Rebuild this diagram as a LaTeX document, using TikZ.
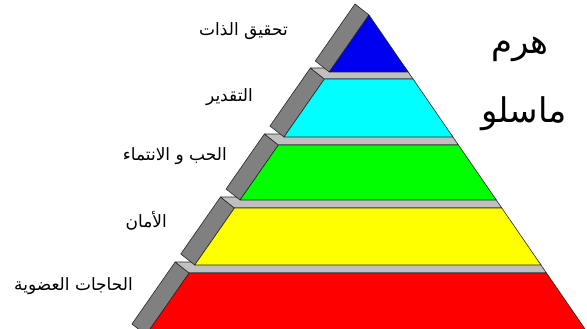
\documentclass[tikz,border=0pt]{standalone}
\usepackage{fontspec}
\newfontfamily\arabicfont[Script=Arabic]{DejaVu Sans}
\TeXXeTstate=1
\begin{document}
\begin{tikzpicture}[x=1pt,y=-1pt,
  declare function={Lx(\y)=369-0.697*(\y-15); Rx(\y)=369+0.688*(\y-15);},
  face/.style={draw=black!85, line width=0.6pt, line join=round},
  sideface/.style={face, fill=sidegray},
  topface/.style={face, fill=ledgegray},
  label/.style={anchor=east, inner sep=0pt, font=\arabicfont\fontsize{17}{19}\selectfont},
  titletext/.style={inner sep=0pt, font=\arabicfont\fontsize{34}{38}\selectfont}]
\definecolor{sidegray}{HTML}{808080}
\definecolor{ledgegray}{HTML}{C0C0C0}
\definecolor{lvred}{HTML}{FF0000}
\definecolor{lvyellow}{HTML}{FFFF00}
\definecolor{lvgreen}{HTML}{00FF00}
\definecolor{lvcyan}{HTML}{00FFFF}
\definecolor{lvblue}{HTML}{0000F0}
\useasboundingbox (0,0) rectangle (587,329);
\clip (0,0) rectangle (587,329);
% levels: top y, bottom y, colour
\foreach \yt/\yb/\col in {273/335/lvred, 208/265/lvyellow, 145/200/lvgreen, 79/137/lvcyan} {
  \draw[sideface] ({Lx(\yt)},\yt) -- ({Lx(\yb)},\yb) -- ({Lx(\yb)-14},\yb-11) -- ({Lx(\yt)-14},\yt-11) -- cycle;
  \draw[topface] ({Lx(\yt)-14},\yt-11) -- ({Lx(\yt)},\yt) -- ({Rx(\yt)},\yt) -- ({Rx(\yt-11)},\yt-11) -- cycle;
  \draw[face, fill=\col] ({Lx(\yt)},\yt) -- ({Rx(\yt)},\yt) -- ({Rx(\yb)},\yb) -- ({Lx(\yb)},\yb) -- cycle;
}
% top (blue) level
\draw[sideface] (369,15) -- ({Lx(72)},72) -- ({Lx(72)-14},61) -- (355,4) -- cycle;
\draw[face, fill=lvblue] (369,15) -- ({Rx(72)},72) -- ({Lx(72)},72) -- cycle;
% labels
\node[label] (l1) at (288,31) {\beginR تحقيق الذات\endR};
\node[label] (l2) at (253,97) {\beginR التقدير\endR};
\node[label] (l3) at (227,156) {\beginR الحب و الانتماء\endR};
\node[label] (l4) at (167,221) {\beginR الأمان\endR};
\node[label] (l5) at (133,286) {\beginR الحاجات العضوية\endR};
\node[titletext] (t1) at (520,49) {\beginR هرم\endR};
\node[titletext] (t2) at (524,114) {\beginR ماسلو\endR};
\end{tikzpicture}
\end{document}
